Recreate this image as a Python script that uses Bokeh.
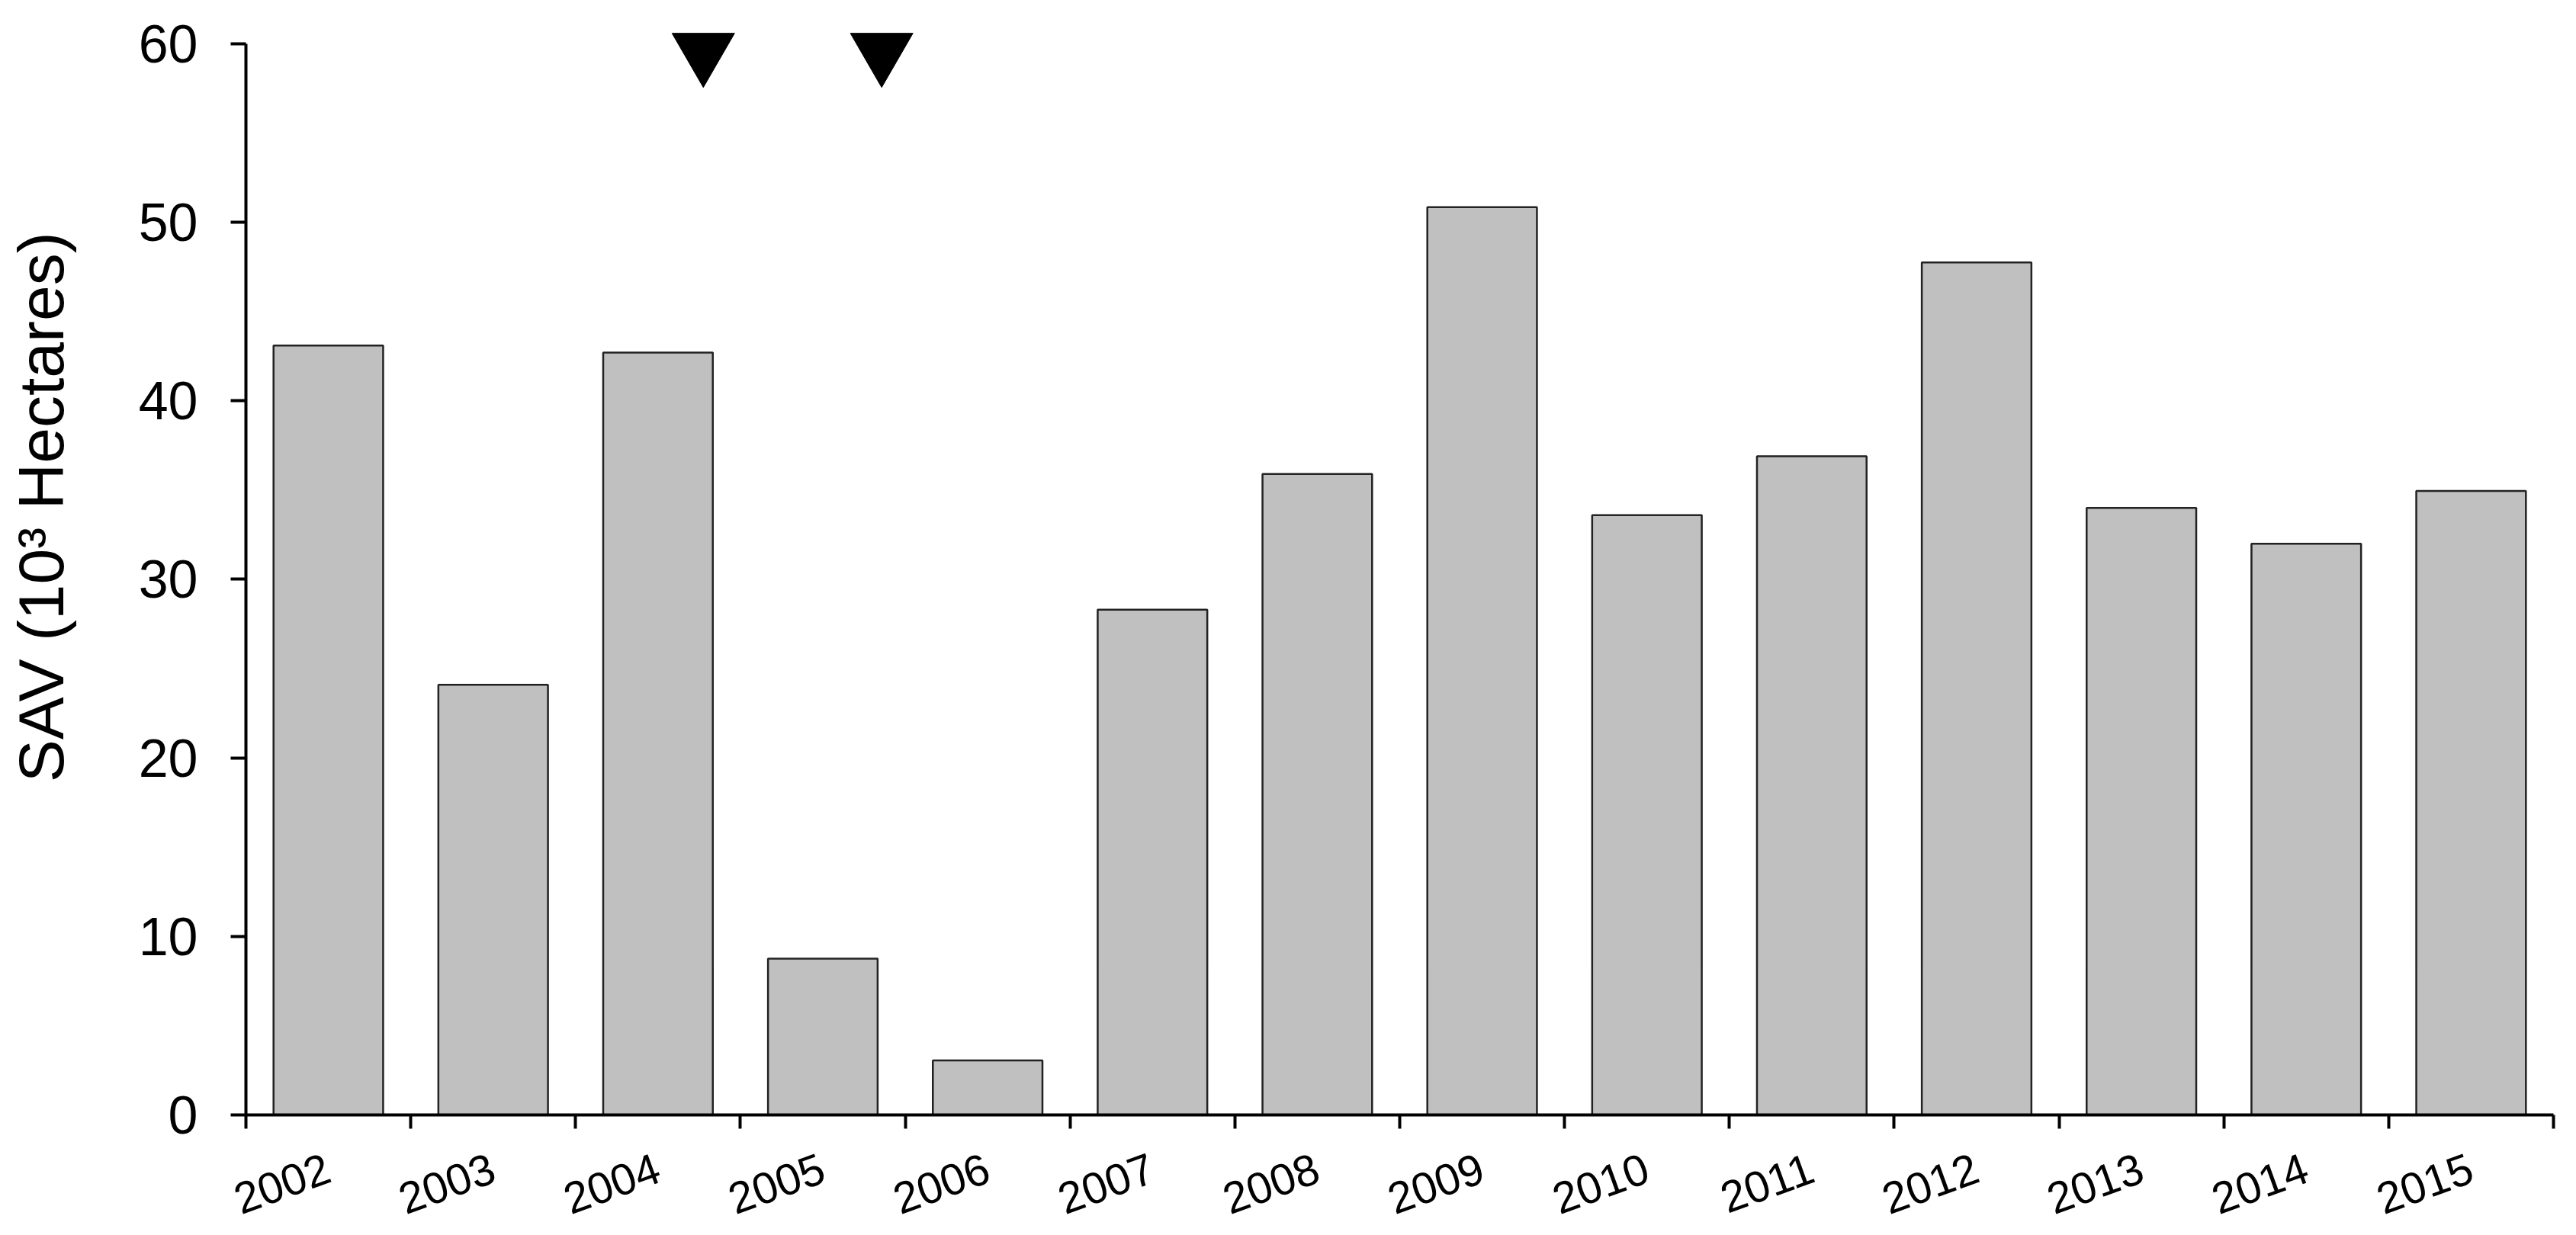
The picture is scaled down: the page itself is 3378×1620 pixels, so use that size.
from bokeh.plotting import figure
from bokeh.models import Range1d, FixedTicker, ColumnDataSource
from bokeh.embed import file_html
from bokeh.resources import INLINE
import math

# ---- data ----
years = ["2002", "2003", "2004", "2005", "2006", "2007", "2008",
         "2009", "2010", "2011", "2012", "2013", "2014", "2015"]
sav = [43.1, 24.1, 42.7, 8.75, 3.05, 28.3, 35.9,
       50.85, 33.6, 36.9, 47.75, 34.0, 32.0, 34.95]
# hurricane event markers (position along year axis, in category units)
event_x = [2.775, 3.857]
event_y = [59.58, 59.58]
y_ticks = [0, 10, 20, 30, 40, 50, 60]
y_title = "SAV (10³ Hectares)"

FONT = "Liberation Sans"

n = len(years)
centers = [i + 0.5 for i in range(n)]
src = ColumnDataSource(dict(x=centers, top=sav))

Y_END = 61.11

p = figure(frame_width=3026, frame_height=1431, output_backend="svg",
           toolbar_location=None, title=None,
           x_range=Range1d(0, n), y_range=Range1d(0, Y_END),
           min_border_left=322, min_border_right=14, min_border_top=31,
           min_border_bottom=140)
p.outline_line_color = None
p.xgrid.visible = False
p.ygrid.visible = False
p.background_fill_color = "white"
p.border_fill_color = "white"

p.vbar(x="x", top="top", bottom=0, width=0.665, source=src,
       fill_color="#c0c0c0", line_color="#222222", line_width=2.5)

p.scatter(event_x, event_y, marker="inverted_triangle", size=82,
          fill_color="black", line_color="black", line_width=1)

# x axis
xa = p.xaxis[0]
xa.ticker = FixedTicker(ticks=centers, minor_ticks=list(range(n + 1)))
xa.major_label_overrides = {c: y for c, y in zip(centers, years)}
xa.major_tick_out = 0
xa.major_tick_in = 0
xa.minor_tick_out = 18
xa.minor_tick_in = 0
xa.minor_tick_line_width = 4
xa.minor_tick_line_color = "black"
xa.axis_line_width = 4
xa.axis_line_color = "black"
xa.major_label_orientation = math.radians(20)
xa.major_label_text_font = FONT
xa.major_label_text_font_size = "58px"
xa.major_label_text_color = "black"
xa.major_label_standoff = 50

# y axis
ya = p.yaxis[0]
ya.ticker = FixedTicker(ticks=y_ticks, minor_ticks=[])
ya.bounds = (0, 60)
ya.major_tick_out = 20
ya.major_tick_in = 0
ya.major_tick_line_width = 4
ya.major_tick_line_color = "black"
ya.minor_tick_out = 0
ya.minor_tick_in = 0
ya.axis_line_width = 4
ya.axis_line_color = "black"
ya.major_label_text_font = FONT
ya.major_label_text_font_size = "70px"
ya.major_label_text_color = "black"
ya.major_label_standoff = 43
# the axis title sits above the frame's middle in the reference: lead it with
# no-break spaces so that its visible part is raised accordingly
ya.axis_label = "\u00a0" * 7 + y_title
ya.axis_label_standoff = 78
ya.axis_label_text_font = FONT
ya.axis_label_text_font_size = "84px"
ya.axis_label_text_font_style = "normal"
ya.axis_label_text_color = "black"

open("out.html", "w").write(file_html(p, INLINE))
